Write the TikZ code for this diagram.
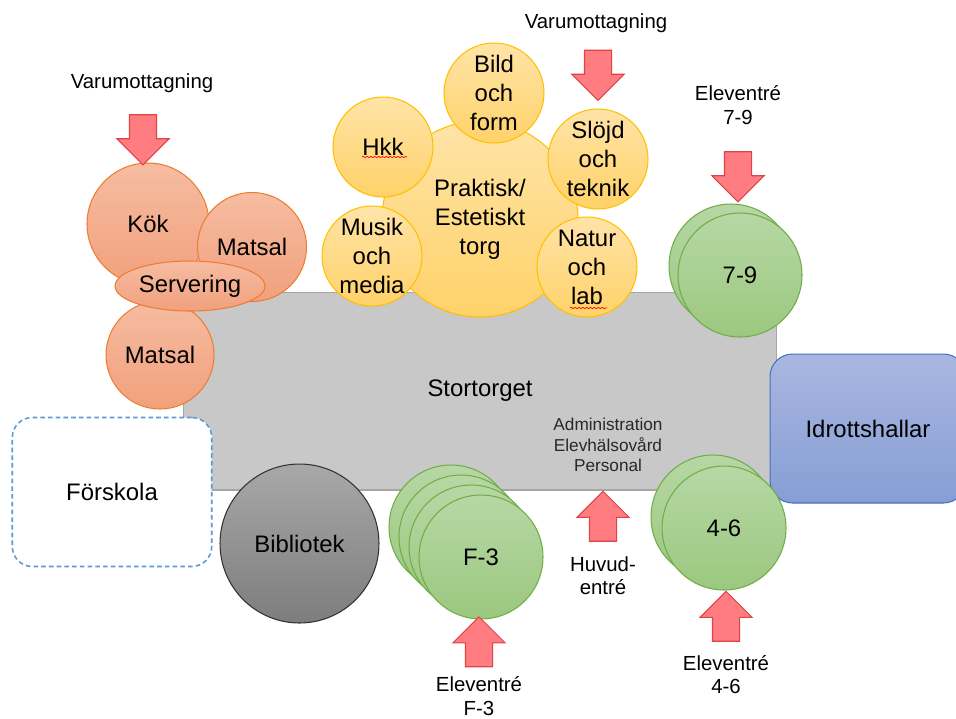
\documentclass[tikz,border=0pt]{standalone}
\usepackage{fontspec}
\setmainfont{Liberation Sans}
\usepackage{xcolor}
\usepackage{tikz}
\usetikzlibrary{positioning,shapes.geometric,shapes.arrows,decorations.pathmorphing}

\definecolor{torgyta}{RGB}{200,200,200}
\definecolor{torgkant}{RGB}{166,166,166}
\definecolor{koktopp}{RGB}{246,188,162}
\definecolor{kokbotten}{RGB}{241,160,124}
\definecolor{kokkant}{RGB}{237,125,49}
\definecolor{gultopp}{RGB}{255,228,168}
\definecolor{gulbotten}{RGB}{255,210,105}
\definecolor{gulkant}{RGB}{255,192,0}
\definecolor{grontopp}{RGB}{183,215,165}
\definecolor{gronbotten}{RGB}{155,200,127}
\definecolor{gronkant}{RGB}{112,173,71}
\definecolor{blatopp}{RGB}{169,182,224}
\definecolor{blabotten}{RGB}{134,158,213}
\definecolor{blakant}{RGB}{68,114,196}
\definecolor{bibtopp}{RGB}{168,168,168}
\definecolor{bibbotten}{RGB}{125,125,125}
\definecolor{bibkant}{RGB}{50,50,50}
\definecolor{pilfarg}{RGB}{255,124,128}
\definecolor{pilkant}{RGB}{224,66,72}
\definecolor{forskolakant}{RGB}{91,155,213}
\definecolor{admgra}{RGB}{40,40,40}

\tikzset{
    stortext/.style={font=\fontsize{13.6}{16.5}\selectfont},
    litentext/.style={font=\fontsize{11.6}{13.4}\selectfont, align=center, inner sep=0pt},
    admtext/.style={font=\fontsize{9.8}{11.6}\selectfont, align=center, inner sep=0pt, text=admgra},
    kok/.style={
        circle,
        draw=kokkant,
        line width=0.6pt,
        top color=koktopp,
        bottom color=kokbotten,
        inner sep=0pt,
        align=center,
        stortext
    },
    torg/.style={
        circle,
        draw=gulkant,
        line width=0.6pt,
        top color=gultopp,
        bottom color=gulbotten,
        minimum size=2cm,
        inner sep=0pt,
        align=center,
        stortext
    },
    klass/.style={
        circle,
        draw=gronkant,
        line width=0.6pt,
        top color=grontopp,
        bottom color=gronbotten,
        minimum size=2.48cm,
        inner sep=0pt,
        stortext
    },
    entre/.style={
        single arrow,
        draw=pilkant,
        fill=pilfarg,
        line width=0.6pt,
        minimum height=1cm,
        inner xsep=0pt,
        inner ysep=0.26cm,
        single arrow head extend=0.25cm
    },
    stavfel/.style={
        draw=red,
        line width=0.4pt,
        decorate,
        decoration={snake, amplitude=0.35pt, segment length=2.2pt}
    }
}

\begin{document}
\begin{tikzpicture}[x=0.02cm, y=-0.02cm]
    \useasboundingbox (0,0) rectangle (956,718);

    % Stortorget
    \node[rectangle, draw=torgkant, fill=torgyta, line width=0.6pt,
          minimum width=11.88cm, minimum height=3.96cm, stortext] (stortorget) at (480,391) {Stortorget};
    \node[admtext] (admin) at (608,445) {Administration\\Elevhälsovård\\Personal};

    % Kök och matsal
    \node[kok, minimum size=2.44cm] (kok) at (148,224) {Kök};
    \node[kok, minimum size=2.18cm] (matsal1) at (252,247) {Matsal};
    \node[kok, minimum size=2.16cm] (matsal2) at (160,355) {Matsal};
    \node[kok, ellipse, minimum width=3cm, minimum height=1cm] (servering) at (190,286) {Servering};

    % Praktisk/estetiskt torg
    \node[torg, minimum size=3.92cm] (praktisk) at (480,219) {Praktisk/\\Estetiskt\\torg};
    \node[torg] (bild) at (494,93) {Bild\\och\\form};
    \node[torg] (hkk) at (383,147) {Hkk};
    \node[torg] (slojd) at (598,159) {Slöjd\\och\\teknik};
    \node[torg] (musik) at (372,256) {Musik\\och\\media};
    \node[torg] (natur) at (587,267) {Natur\\och\\lab};
    \draw[stavfel] ([xshift=-0.42cm,yshift=-0.2cm]hkk.center) -- ++(45,0);
    \draw[stavfel] ([xshift=-0.34cm,yshift=-0.82cm]natur.center) -- ++(37,0);

    % Förskola, bibliotek, idrottshallar
    \node[rectangle, rounded corners=0.4cm, draw=forskolakant, fill=white, line width=0.9pt,
          dash pattern=on 2.6pt off 1.8pt, minimum width=3.99cm, minimum height=2.98cm,
          stortext] (forskola) at (112,492) {Förskola};
    \node[circle, draw=bibkant, line width=0.6pt, top color=bibtopp, bottom color=bibbotten,
          minimum size=3.18cm, stortext] (bibliotek) at (299.5,543.5) {Bibliotek};
    \node[rectangle, rounded corners=0.45cm, draw=blakant, line width=0.6pt, top color=blatopp,
          bottom color=blabotten, minimum width=3.92cm, minimum height=2.98cm,
          stortext] (idrott) at (868,428.5) {Idrottshallar};

    % Klasser
    \node[klass] (k79a) at (731,266) {};
    \node[klass] (k79) at (740,275) {7-9};
    \node[klass] (k46a) at (713,517) {};
    \node[klass] (k46) at (724,528) {4-6};
    \foreach \i in {0,1,2}
        \node[klass] (kf3-\i) at (451+10*\i,527+10*\i) {};
    \node[klass] (kf3) at (481,557) {F-3};

    % Entréer
    \node[entre, rotate=-90] (pilvarL) at (143,133) {};
    \node[entre, rotate=-90] (pilvarR) at (598,68.5) {};
    \node[entre, rotate=-90] (pil79) at (738,170) {};
    \node[entre, rotate=90] (pilhuvud) at (603,523) {};
    \node[entre, rotate=90] (pil46) at (726,623) {};
    \node[entre, rotate=90] (pilf3) at (479,648.5) {};

    % Texter
    \node[litentext] (varL) at (142,83) {Varumottagning};
    \node[litentext] (varR) at (596,23) {Varumottagning};
    \node[litentext] (ent79) at (738,105) {Eleventré\\7-9};
    \node[litentext] (huvud) at (603,575.5) {Huvud-\\entré};
    \node[litentext] (ent46) at (726,674.5) {Eleventré\\4-6};
    \node[litentext] (entf3) at (479,696) {Eleventré\\F-3};
\end{tikzpicture}
\end{document}
